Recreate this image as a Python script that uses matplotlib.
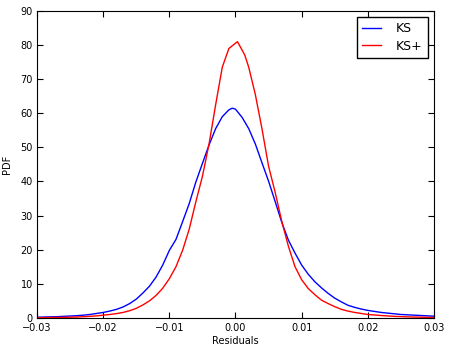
import numpy as np
import matplotlib
matplotlib.use('Agg')
import matplotlib.pyplot as plt

# Residual grid and density values
x_ks = [-0.030, -0.029, -0.028, -0.027, -0.026, -0.025, -0.024, -0.023, -0.022, -0.021,
        -0.020, -0.019, -0.018, -0.017, -0.016, -0.015, -0.014, -0.013, -0.012, -0.011,
        -0.010, -0.009, -0.008, -0.007, -0.006, -0.005, -0.004, -0.003, -0.002, -0.001,
        -0.0005, 0.000, 0.001, 0.002, 0.003, 0.004, 0.005, 0.006, 0.007, 0.008, 0.009,
        0.010, 0.011, 0.012, 0.013, 0.014, 0.015, 0.016, 0.017, 0.018, 0.019,
        0.020, 0.021, 0.022, 0.023, 0.024, 0.025, 0.026, 0.027, 0.028, 0.029, 0.030]
pdf_ks = [0.2, 0.25, 0.3, 0.35, 0.45, 0.55, 0.65, 0.8, 1.0, 1.3,
          1.6, 2.0, 2.5, 3.2, 4.2, 5.5, 7.3, 9.3, 12.0, 15.5,
          19.8, 23.0, 28.2, 33.5, 39.8, 45.3, 50.7, 55.5, 59.0, 61.0,
          61.5, 61.2, 58.8, 55.5, 51.0, 45.5, 40.1, 34.1, 28.0, 22.8, 19.0,
          15.5, 12.8, 10.6, 8.8, 7.2, 5.8, 4.7, 3.7, 3.1, 2.6,
          2.2, 1.9, 1.6, 1.4, 1.2, 1.0, 0.9, 0.8, 0.7, 0.6, 0.5]

x_ksp = [-0.030, -0.028, -0.026, -0.024, -0.022, -0.021, -0.020, -0.019, -0.018, -0.017,
         -0.016, -0.015, -0.014, -0.013, -0.012, -0.011, -0.010, -0.009, -0.008, -0.007,
         -0.006, -0.005, -0.004, -0.003, -0.002, -0.001, 0.0003, 0.0014, 0.002, 0.003,
         0.004, 0.005, 0.006, 0.007, 0.008, 0.009, 0.010, 0.011, 0.012, 0.013, 0.014,
         0.015, 0.016, 0.017, 0.018, 0.019, 0.020, 0.022, 0.024, 0.026, 0.028, 0.030]
pdf_ksp = [0.05, 0.1, 0.15, 0.25, 0.45, 0.6, 0.8, 1.0, 1.25, 1.6,
           2.1, 2.8, 3.8, 5.0, 6.6, 8.7, 11.5, 15.0, 19.8, 26.0,
           34.0, 41.5, 51.0, 62.5, 73.5, 79.0, 81.0, 77.1, 73.5, 65.5,
           55.5, 44.5, 36.8, 28.3, 21.0, 15.0, 11.2, 8.6, 6.8, 5.2, 4.2,
           3.3, 2.5, 2.0, 1.6, 1.3, 1.0, 0.7, 0.45, 0.3, 0.2, 0.1]

fig = plt.figure(figsize=(4.52, 3.54), dpi=100)
ax = fig.add_axes([0.082, 0.102, 0.878, 0.867])
ax.plot(x_ks, pdf_ks, color='b', linewidth=1, label='KS')
ax.plot(x_ksp, pdf_ksp, color='r', linewidth=1, label='KS+')

ax.set_xlim(-0.03, 0.03)
ax.set_ylim(0, 90)
ax.set_xticks(np.arange(-0.03, 0.031, 0.01))
ax.set_xticklabels(['\u22120.03', '\u22120.02', '\u22120.01', '0.00', '0.01', '0.02', '0.03'])
ax.set_yticks(np.arange(0, 91, 10))
ax.tick_params(direction='in', top=True, right=True, labelsize=7, length=4)
ax.tick_params(axis='x', pad=4)
ax.tick_params(axis='y', pad=3)
ax.set_xlabel('Residuals', fontsize=7, labelpad=2)
ax.set_ylabel('PDF', fontsize=7, labelpad=6)
leg = ax.legend(loc='upper right', fontsize=9, fancybox=False, framealpha=1,
                edgecolor='black', borderaxespad=0.5, handlelength=1.5,
                handletextpad=1.2, borderpad=0.4, labelspacing=0.35)
leg.get_frame().set_linewidth(1)

fig.savefig('out.png', dpi=100)
